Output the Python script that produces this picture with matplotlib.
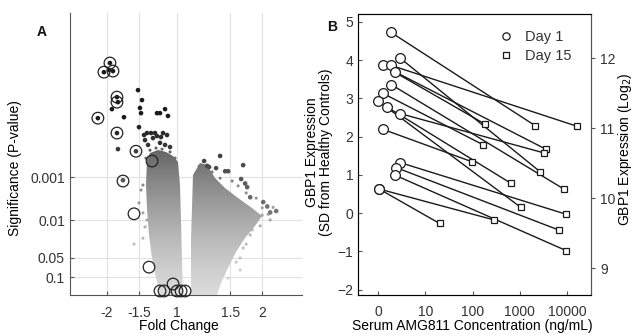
import numpy as np
import matplotlib
matplotlib.use('Agg')
import matplotlib.pyplot as plt
from matplotlib.colors import LinearSegmentedColormap, Normalize
from matplotlib.patches import Polygon

plt.rcParams['font.family'] = ['Liberation Sans', 'DejaVu Sans']
plt.rcParams['font.size'] = 10
plt.rcParams['text.color'] = '#333333'
plt.rcParams['xtick.color'] = '#555555'
plt.rcParams['ytick.color'] = '#555555'
plt.rcParams['xtick.labelcolor'] = '#333333'
plt.rcParams['ytick.labelcolor'] = '#333333'

# ---- panel A: volcano plot (x = fold change axis position, y = -log10 P) ----
fc_ticks = [-1.0, -0.543, 0.0, 0.757, 1.214]
fc_labels = ['-2', '-1.5', '1', '1.5', '2']
p_ticks = [3.0, 2.0, 1.301, 1.0]
p_labels = ['0.001', '0.01', '0.05', '0.1']

# outline of the dense gene clouds
left_cloud_x = [-0.429, -0.386, -0.271, -0.157, -0.057, 0.014, 0.043, 0.057, 0.071,
                0.086, -0.243, -0.3, -0.357, -0.4, -0.429, -0.443]
left_cloud_y = [3.45, 3.64, 3.72, 3.67, 3.56, 3.39, 2.80, 2.01, 1.26,
                0.754, 0.754, 0.985, 1.30, 1.71, 2.25, 2.80]
right_cloud_x = [0.2, 0.2, 0.229, 0.329, 0.429, 0.543, 0.686, 0.871, 1.071, 1.214,
                 1.114, 0.971, 0.843, 0.729, 0.629, 0.571]
right_cloud_y = [0.754, 1.61, 3.05, 3.36, 3.31, 2.97, 2.72, 2.49, 2.26, 2.09,
                 1.89, 1.65, 1.40, 1.13, 0.914, 0.754]

# medium / light grey genes at the top and edges of the clouds
mid_x = [-0.386, -0.3, -0.214, -0.1, -0.029, -0.443, -0.343, -0.157,
         0.314, 0.286, 0.5, 0.614, 0.786, 0.871, 1.129, 0.986, 1.214,
         -0.486, -0.514, -0.543, -0.486, -0.457, -0.486, -0.614, -0.429,
         1.114, 1.214, 1.043, 0.943, 0.843, 0.729, 0.9, 1.329,
         1.3, 1.371, 1.186, 1.071, 0.986, 0.9]
mid_y = [3.72, 3.78, 3.75, 3.67, 3.50, 3.50, 3.58, 3.56,
         3.28, 3.13, 3.13, 2.97, 2.90, 2.78, 2.49, 2.61, 2.27,
         2.80, 2.68, 2.38, 2.16, 1.87, 1.65, 1.54, 2.01,
         1.97, 2.11, 1.71, 1.47, 1.23, 0.985, 1.105, 2.01,
         2.13, 2.28, 1.89, 1.81, 1.54, 1.30]

# strongly significant genes
sig_x = [-0.957, -1.043, -0.971, -0.914, -0.857, -0.843, -1.129, -0.857, -0.586,
         -0.771, -0.929, -0.757, -0.843, -0.557, -0.5, -0.529, -0.514, -0.286,
         -0.243, -0.171, -0.129, -0.543, -0.471, -0.429, -0.371, -0.314, -0.2,
         -0.143, -0.457, -0.343, -0.286, -0.229, -0.414, -0.243, -0.171, -0.1,
         0.614, 0.386, 0.429, 0.457, 0.557, 0.686, 0.729, 0.943, 0.914, 0.971,
         1.0, 1.043, 1.229, 1.286, 1.414, 1.329]
sig_y = [6.59, 6.25, 6.33, 6.29, 5.37, 5.20, 4.68, 4.22, 3.69,
         2.92, 4.97, 4.71, 3.75, 5.61, 5.27, 5.01, 4.84, 4.84,
         4.84, 4.97, 4.75, 4.40, 4.16, 4.22, 4.22, 4.22, 4.22,
         4.16, 4.01, 4.07, 4.13, 4.10, 3.87, 3.93, 3.87, 3.81,
         3.56, 3.42, 3.29, 3.26, 3.23, 3.15, 3.15, 3.31, 2.95, 2.84,
         2.75, 2.51, 2.40, 2.30, 2.20, 2.17]

# highlighted genes (open circles)
circ_x = [-0.957, -1.043, -0.914, -0.857, -0.857, -1.129, -0.857, -0.586, -0.357,
          -0.771, -0.614, -0.4, -0.057, -0.243, -0.186, 0.0, 0.057, 0.114]
circ_y = [6.59, 6.25, 6.29, 5.37, 5.20, 4.68, 4.22, 3.69, 3.42,
          2.90, 2.14, 1.15, 0.90, 0.806, 0.806, 0.806, 0.806, 0.806]

# ---- panel B: GBP1 vs serum AMG811 (x = log10(conc + 1)), one pair per patient ----
day1_x = [0.275, 0.466, 0.10, 0.275, 0.36, 0.275, 0.10, -0.006, 0.184, 0.466,
          0.10, 0.466, 0.38, 0.36, 0.02, 0.02]
day1_y = [4.72, 4.05, 3.86, 3.86, 3.69, 3.36, 3.13, 2.92, 2.76, 2.60,
          2.19, 1.32, 1.19, 0.99, 0.63, 0.63]
day15_x = [3.33, 3.43, 2.27, 4.21, 3.55, 3.93, 2.23, 2.81, 3.02, 3.52,
           1.99, 3.98, 3.82, 3.98, 2.46, 1.30]
day15_y = [2.28, 1.08, 2.32, 2.27, 1.67, 0.63, 1.78, 0.78, 0.15, 1.57,
           1.34, -0.03, -0.44, -0.98, -0.18, -0.27]
conc_ticks = [0, 1, 2, 3, 4]
conc_labels = ['0', '10', '100', '1000', '10000']

fig = plt.figure(figsize=(6.35, 3.36), dpi=100)

# ---------------- panel A ----------------
axA = fig.add_axes([0.110, 0.122, 0.366, 0.839])
axA.set_yscale('function', functions=(np.sqrt, np.square))
axA.set_xlim(-1.529, 1.786)
axA.set_ylim(0.754, 8.6)

cloud_cmap = LinearSegmentedColormap.from_list('cloud', ['#dcdcdc', '#666666'])
cloud_norm = Normalize(0.75, 3.7)
dot_cmap = LinearSegmentedColormap.from_list('dots', ['#7a7a7a', '#1a1a1a'])
dot_norm = Normalize(2.0, 4.6)

# gradient fill for the two clouds
grad_y = np.linspace(0.75, 4.0, 150)
grad_x = np.array([-1.6, 1.8])
grad_c = ((grad_y[:-1] + grad_y[1:]) / 2)[:, None]
for cx, cy in [(left_cloud_x, left_cloud_y), (right_cloud_x, right_cloud_y)]:
    poly = Polygon(np.column_stack([cx, cy]), closed=True, transform=axA.transData)
    mesh = axA.pcolormesh(grad_x, grad_y, grad_c, cmap=cloud_cmap, norm=cloud_norm,
                          shading='flat', zorder=1, rasterized=True)
    mesh.set_clip_path(poly)

axA.scatter(mid_x, mid_y, s=5, c=mid_y, cmap=cloud_cmap, norm=cloud_norm, lw=0, zorder=2)
axA.scatter(sig_x, sig_y, s=11, c=sig_y, cmap=dot_cmap, norm=dot_norm, lw=0, zorder=3)
axA.scatter(circ_x, circ_y, s=70, facecolors='none', edgecolors='#222222',
            lw=0.9, zorder=4, clip_on=False)

axA.set_xticks(fc_ticks)
axA.set_xticklabels(fc_labels)
axA.set_yticks(p_ticks)
axA.set_yticklabels(p_labels)
axA.minorticks_off()
axA.tick_params(direction='in', length=3, width=0.8)
axA.tick_params(axis='x', pad=8)
axA.grid(True, color='#e2e2e2', lw=0.8)
axA.set_axisbelow(True)
for s in ['top', 'right']:
    axA.spines[s].set_visible(False)
for s in ['left', 'bottom']:
    axA.spines[s].set_color('#555555')
axA.set_xlabel('Fold Change')
axA.set_ylabel('Significance (P-value)')
axA.xaxis.set_label_coords(0.47, -0.085)
axA.yaxis.set_label_coords(-0.205, 0.45)
fig.text(0.066, 0.905, 'A', fontsize=10, fontweight='bold', color='#111111',
         ha='center', va='center')

# ---------------- panel B ----------------
axB = fig.add_axes([0.564, 0.122, 0.367, 0.836])
axB.set_xlim(-0.424, 4.51)
axB.set_ylim(-2.14, 5.20)

for i in range(len(day1_x)):
    axB.plot([day1_x[i], day15_x[i]], [day1_y[i], day15_y[i]], color='#1a1a1a',
             lw=1.0, zorder=2)
axB.plot(day1_x, day1_y, 'o', ms=7, mfc='white', mec='#1a1a1a', mew=0.9,
         ls='none', zorder=3, label='Day 1')
axB.plot(day15_x, day15_y, 's', ms=5, mfc='white', mec='#1a1a1a', mew=0.9,
         ls='none', zorder=3, label='Day 15')

axB.set_xticks(conc_ticks)
axB.set_xticklabels(conc_labels)
axB.set_yticks(range(-2, 6))
axB.tick_params(direction='in', length=3, width=0.8)
axB.tick_params(axis='x', pad=7)
for s in axB.spines.values():
    s.set_color('#555555')
axB.set_xlabel('Serum AMG811 Concentration (ng/mL)')
axB.set_ylabel('GBP1 Expression\n(SD from Healthy Controls)', linespacing=1.0)
axB.xaxis.set_label_coords(0.49, -0.085)
axB.yaxis.set_label_coords(-0.11, 0.51)

leg = axB.legend(loc='upper right', bbox_to_anchor=(0.97, 0.99), frameon=False,
                 handlelength=1.0, handletextpad=0.8, labelspacing=0.35,
                 markerscale=0.75, fontsize=10.5)

axR = axB.twinx()
axR.set_ylim(8.62, 12.63)
axR.set_yticks([9, 10, 11, 12])
axR.tick_params(direction='out', length=3, width=0.8)
axR.spines['right'].set_color('#555555')
axR.set_ylabel('GBP1 Expression (Log$_2$)')
axR.yaxis.set_label_coords(1.105, 0.52)

fig.text(0.523, 0.92, 'B', fontsize=10, fontweight='bold', color='#111111',
         ha='center', va='center')

fig.savefig('out.png', dpi=100)
